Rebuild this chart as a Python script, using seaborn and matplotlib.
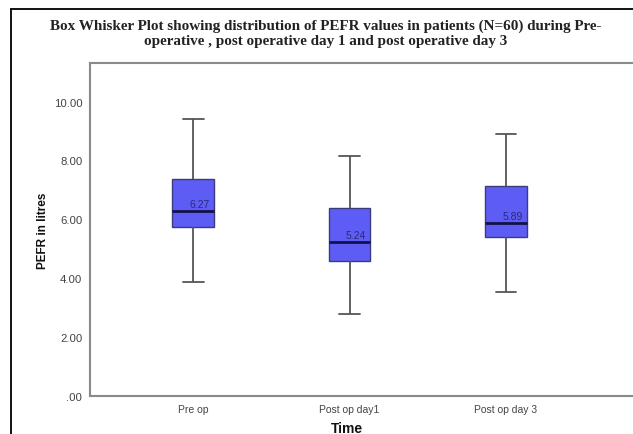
# PEFR box-whisker plot: pre-op vs post-op day 1 vs post-op day 3
# five-number summaries

import pandas as pd
import matplotlib
matplotlib.use('Agg')
import matplotlib.pyplot as plt
from matplotlib.lines import Line2D
import seaborn as sns

# Categories and five-number summaries (min, Q1, median, Q3, max)
groups = ['Pre op', 'Post op day1', 'Post op day 3']
pre_op = [3.88, 5.75, 6.27, 7.38, 9.42]
post_day1 = [2.80, 4.58, 5.24, 6.37, 8.15]
post_day3 = [3.52, 5.40, 5.89, 7.13, 8.90]
medians = [6.27, 5.24, 5.89]
y_ticks = [0, 2, 4, 6, 8, 10]

# long table for seaborn
df = pd.DataFrame({
    'Time': [groups[0]] * 5 + [groups[1]] * 5 + [groups[2]] * 5,
    'PEFR': pre_op + post_day1 + post_day3,
})

sns.set_style('white')
plt.rcParams['font.family'] = ['Liberation Sans', 'DejaVu Sans']

fig = plt.figure(figsize=(6.33, 4.35), dpi=100)
ax = fig.add_axes([90 / 633, 38 / 435, 555 / 633, 333 / 435])

box_w = 0.265
sns.boxplot(data=df, x='Time', y='PEFR', order=groups, ax=ax,
            width=box_w, whis=(0, 100), fliersize=0,
            boxprops={'facecolor': '#5d5df6', 'edgecolor': '#3c3c7c',
                      'linewidth': 1.0},
            medianprops={'color': '#12124a', 'linewidth': 2.0},
            whiskerprops={'color': '#555555', 'linewidth': 1.3},
            capprops={'color': '#555555', 'linewidth': 1.3})

# median value labels inside each box
for i, med in enumerate(medians):
    ax.text(i + box_w / 2 - 0.025, med + 0.07, f'{med:.2f}',
            ha='right', va='bottom', fontsize=7.5, color='#2a2a78')

ax.set_xlim(-0.66, 2.89)
ax.set_ylim(0, 11.31)
ax.set_yticks(y_ticks)
ax.set_yticklabels([f'{v:.2f}'.lstrip('0') if v == 0 else f'{v:.2f}'
                    for v in y_ticks])

for side in ['left', 'bottom', 'top']:
    ax.spines[side].set_color('#8a8a8a')
    ax.spines[side].set_linewidth(1.5)
ax.spines['right'].set_visible(False)

ax.tick_params(axis='both', direction='out', length=4, width=1.2,
               color='#777777', labelsize=7.5, labelcolor='#444444', pad=2)
ax.tick_params(axis='y', labelsize=8.2, pad=1.5)

ax.set_xlabel('Time', fontsize=10, fontweight='bold', color='#111111')
ax.xaxis.set_label_coords((347 - 90) / 555, -0.074)
ax.set_ylabel('PEFR in litres', fontsize=8.5, fontweight='bold',
              color='#111111')
ax.yaxis.set_label_coords(-0.074, 0.5)

# title (serif, two lines)
fig.text(326 / 633, 1 - 34 / 435,
         'Box Whisker Plot showing distribution of PEFR values in patients '
         '(N=60) during Pre-\noperative , post operative day 1 and post '
         'operative day 3',
         ha='center', va='center', fontsize=10.9, fontweight='bold',
         family='Liberation Serif', color='#222222', linespacing=1.2)

# outer document frame
fig.add_artist(Line2D([11 / 633, 11 / 633], [0, 1 - 10 / 435],
                      transform=fig.transFigure, color='black', lw=1.3))
fig.add_artist(Line2D([11 / 633, 1], [1 - 10 / 435, 1 - 10 / 435],
                      transform=fig.transFigure, color='black', lw=1.3))

fig.savefig('out.png', dpi=100)
